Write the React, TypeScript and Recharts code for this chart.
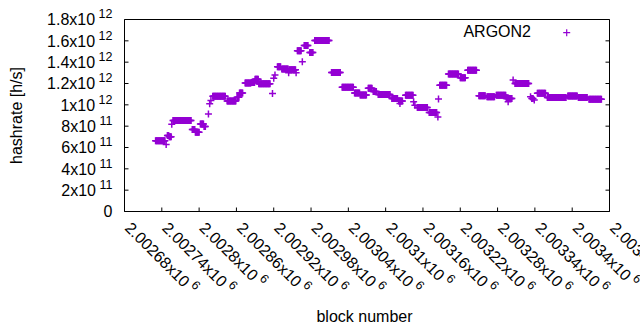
import React from "react";
import { ScatterChart, Scatter, XAxis, YAxis, Legend } from "recharts";

const FONT = "'Liberation Sans', Arial, sans-serif";
const PURPLE = "#9400d3";

const blockTicks = [
  2002680, 2002740, 2002800, 2002860, 2002920, 2002980, 2003040,
  2003100, 2003160, 2003220, 2003280, 2003340, 2003400, 2003460,
];
const rateTicks = [0, 2e11, 4e11, 6e11, 8e11, 1e12, 1.2e12, 1.4e12, 1.6e12, 1.8e12];

// hashrate stays flat over runs of blocks: first block, last block, rate of each run
const runStart = [
  2002730, 2002747, 2002749, 2002752, 2002756, 2002758, 2002789, 2002794, 2002802, 2002808,
  2002815, 2002817, 2002819, 2002822, 2002845, 2002861, 2002865, 2002874, 2002884, 2002890,
  2002896, 2002918, 2002920, 2002922, 2002926, 2002933, 2002944, 2002945, 2002956, 2002958,
  2002966, 2002969, 2002978, 2002986, 2003013, 2003030, 2003050, 2003059, 2003072, 2003080,
  2003088, 2003110, 2003121, 2003123, 2003132, 2003145, 2003147, 2003151, 2003170, 2003184,
  2003185, 2003187, 2003201, 2003220, 2003232, 2003250, 2003263, 2003278, 2003294, 2003297,
  2003305, 2003308, 2003333, 2003335, 2003339, 2003344, 2003360, 2003393, 2003410, 2003427,
];
const runEnd = [
  2002745, 2002747, 2002751, 2002755, 2002756, 2002787, 2002793, 2002800, 2002807, 2002810,
  2002815, 2002817, 2002819, 2002842, 2002859, 2002864, 2002870, 2002883, 2002889, 2002895,
  2002914, 2002918, 2002920, 2002922, 2002931, 2002943, 2002944, 2002955, 2002956, 2002964,
  2002966, 2002975, 2002983, 2003009, 2003027, 2003048, 2003058, 2003069, 2003078, 2003085,
  2003107, 2003119, 2003127, 2003123, 2003144, 2003145, 2003147, 2003167, 2003182, 2003184,
  2003185, 2003198, 2003217, 2003228, 2003246, 2003260, 2003275, 2003293, 2003303, 2003297,
  2003305, 2003330, 2003333, 2003337, 2003339, 2003357, 2003390, 2003408, 2003424, 2003447,
];
const runRate = [
  6.63e11, 6.28e11, 7.12e11, 7.0e11, 8.19e11, 8.53e11, 7.69e11, 7.43e11, 8.2e11, 7.98e11,
  9.13e11, 1.01e12, 1.04e12, 1.08e12, 1.037e12, 1.07e12, 1.11e12, 1.205e12, 1.21e12, 1.24e12,
  1.198e12, 1.107e12, 1.25e12, 1.28e12, 1.358e12, 1.335e12, 1.3e12, 1.33e12, 1.3e12, 1.506e12,
  1.405e12, 1.556e12, 1.49e12, 1.604e12, 1.304e12, 1.164e12, 1.11e12, 1.092e12, 1.155e12, 1.126e12,
  1.098e12, 1.06e12, 1.037e12, 1.013e12, 1.089e12, 1.03e12, 0.997e12, 0.976e12, 0.929e12, 0.887e12,
  1.054e12, 1.184e12, 1.288e12, 1.253e12, 1.324e12, 1.086e12, 1.075e12, 1.09e12, 1.06e12, 1.03e12,
  1.233e12, 1.2e12, 1.076e12, 1.06e12, 1.045e12, 1.108e12, 1.069e12, 1.082e12, 1.068e12, 1.053e12,
];

const points: { block: number; rate: number }[] = [];
runStart.forEach((start, i) => {
  for (let b = start; b <= runEnd[i]; b++) points.push({ block: b, rate: runRate[i] });
});

// gnuplot style "2.00268x10^6"
function sci(v: number) {
  if (v === 0) return { base: "0", exp: "" };
  const e = Math.floor(Math.log10(v) + 1e-9);
  const m = parseFloat((v / Math.pow(10, e)).toPrecision(6));
  return { base: `${m}x10`, exp: String(e) };
}

const BottomTick = (props: any) => {
  const { x, y, payload } = props;
  const { base, exp } = sci(payload.value);
  const ax = x - 0.5;
  const ay = y + 17.5;
  return (
    <g>
      <line x1={x} y1={y} x2={x} y2={y - 4} stroke="#000" />
      <text x={ax} y={ay} transform={`rotate(45 ${ax} ${ay})`} fontSize={16} fill="#000" fontFamily={FONT}>
        {base}
        <tspan dx={3.5} dy={-7} fontSize={12.5}>{exp}</tspan>
      </text>
    </g>
  );
};

const TopTick = (props: any) => {
  const { x, y } = props;
  return <line x1={x} y1={y} x2={x} y2={y + 4} stroke="#000" />;
};

const LeftTick = (props: any) => {
  const { x, y, payload } = props;
  const { base, exp } = sci(payload.value);
  return (
    <g>
      <line x1={x} y1={y} x2={x + 4} y2={y} stroke="#000" />
      <text x={x - 12} y={y + 5.7} textAnchor="end" fontSize={16} fill="#000" fontFamily={FONT}>
        {base}
        {exp && <tspan dx={3.5} dy={-7} fontSize={12.5}>{exp}</tspan>}
      </text>
    </g>
  );
};

const RightTick = (props: any) => {
  const { x, y } = props;
  return <line x1={x} y1={y} x2={x - 4} y2={y} stroke="#000" />;
};

const Plus = (props: any) => {
  const { cx, cy } = props;
  return (
    <path
      d={`M${cx - 3.5},${cy}H${cx + 3.5}M${cx},${cy - 3.5}V${cy + 3.5}`}
      stroke={PURPLE}
      strokeWidth={1.5}
      fill="none"
    />
  );
};

const KeyBox = () => (
  <svg width={180} height={30} style={{ display: "block" }}>
    <text x={81} y={19.3} textAnchor="end" fontSize={16} fill="#000" fontFamily={FONT}>
      ARGON2
    </text>
    <path d="M113.2,14.7H120.2M116.7,11.2V18.2" stroke={PURPLE} strokeWidth={1.2} fill="none" />
  </svg>
);

export default function App() {
  return (
    <div style={{ position: "absolute", left: 0, top: 0, width: 640, height: 330, background: "#fff", fontFamily: FONT }}>
      <ScatterChart width={640} height={330} margin={{ top: 18.5, right: 29.5, bottom: 117.5, left: 123.5 }}>
        <XAxis
          xAxisId="b"
          type="number"
          dataKey="block"
          domain={[2002680, 2003460]}
          ticks={blockTicks}
          interval={0}
          allowDataOverflow
          height={1}
          tickSize={0}
          tickMargin={0}
          tickLine={false}
          axisLine={{ stroke: "#000" }}
          tick={<BottomTick />}
          label={{
            content: () => (
              <text x={364.5} y={321.7} textAnchor="middle" fontSize={16} fill="#000" fontFamily={FONT}>
                block number
              </text>
            ),
          }}
        />
        <XAxis
          xAxisId="t"
          orientation="top"
          type="number"
          domain={[2002680, 2003460]}
          ticks={blockTicks}
          interval={0}
          allowDataOverflow
          height={1}
          tickSize={0}
          tickMargin={0}
          tickLine={false}
          axisLine={{ stroke: "#000" }}
          tick={<TopTick />}
        />
        <YAxis
          yAxisId="l"
          type="number"
          dataKey="rate"
          domain={[0, 1.8e12]}
          ticks={rateTicks}
          interval={0}
          allowDataOverflow
          width={1}
          tickSize={0}
          tickMargin={0}
          tickLine={false}
          axisLine={{ stroke: "#000" }}
          tick={<LeftTick />}
          label={{
            content: () => (
              <text
                x={16}
                y={115.5}
                transform="rotate(-90 16 115.5)"
                textAnchor="middle"
                dominantBaseline="central"
                fontSize={16}
                fill="#000"
                fontFamily={FONT}
              >
                hashrate [h/s]
              </text>
            ),
          }}
        />
        <YAxis
          yAxisId="r"
          orientation="right"
          type="number"
          domain={[0, 1.8e12]}
          ticks={rateTicks}
          interval={0}
          allowDataOverflow
          width={1}
          tickSize={0}
          tickMargin={0}
          tickLine={false}
          axisLine={{ stroke: "#000" }}
          tick={<RightTick />}
        />
        <Legend
          layout="vertical"
          align="center"
          verticalAlign="middle"
          wrapperStyle={{ left: 450, top: 18, width: 180, height: 30, margin: 0, padding: 0 }}
          content={() => <KeyBox />}
        />
        <Scatter
          name="ARGON2"
          data={points}
          xAxisId="b"
          yAxisId="l"
          fill={PURPLE}
          shape={<Plus />}
          isAnimationActive={false}
        />
      </ScatterChart>
    </div>
  );
}
